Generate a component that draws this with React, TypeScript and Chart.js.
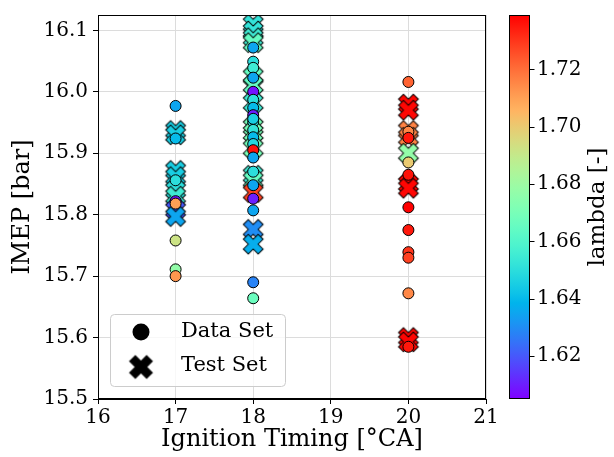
import React, { useEffect, useRef } from "react";
import { Chart, registerables } from "chart.js";
Chart.register(...registerables);

const FONT = "'DejaVu Serif', serif";

// ---- Data Set (circles) ----
const dataTiming = [
  17, 17, 17, 17, 17, 17, 17, 17,
  18, 18, 18, 18, 18, 18, 18, 18, 18, 18, 18, 18, 18, 18, 18, 18, 18, 18, 18, 18, 18,
  20, 20, 20, 20, 20, 20, 20, 20, 20, 20, 20,
];
const dataImep = [
  15.977, 15.924, 15.856, 15.822, 15.818, 15.758, 15.711, 15.7,
  16.072, 16.049, 16.039, 16.023, 16.0, 15.987, 15.974, 15.962, 15.951, 15.938, 15.926, 15.915, 15.905, 15.893, 15.87, 15.848, 15.826, 15.807, 15.69, 15.664, 15.956,
  16.016, 15.935, 15.925, 15.885, 15.865, 15.812, 15.775, 15.739, 15.73, 15.672, 15.585,
];
const dataLambda = [
  1.635, 1.64, 1.65, 1.608, 1.71, 1.692, 1.677, 1.712,
  1.635, 1.65, 1.655, 1.635, 1.608, 1.65, 1.64, 1.61, 1.65, 1.652, 1.64, 1.648, 1.736, 1.635, 1.65, 1.635, 1.61, 1.635, 1.628, 1.667, 1.645,
  1.722, 1.715, 1.735, 1.7, 1.736, 1.739, 1.735, 1.73, 1.728, 1.715, 1.735,
];

// ---- Test Set (crosses) ----
const testTiming = [
  17, 17, 17, 17, 17, 17, 17, 17,
  18, 18, 18, 18, 18, 18, 18, 18, 18, 18, 18, 18, 18, 18, 18,
  20, 20, 20, 20, 20, 20, 20, 20, 20,
];
const testImep = [
  15.937, 15.93, 15.872, 15.862, 15.84, 15.83, 15.808, 15.797,
  16.11, 16.099, 16.088, 16.08, 16.025, 16.011, 15.982, 15.943, 15.933, 15.908, 15.864, 15.856, 15.836, 15.776, 15.752,
  15.98, 15.97, 15.937, 15.926, 15.9, 15.85, 15.843, 15.6, 15.593,
];
const testLambda = [
  1.645, 1.645, 1.645, 1.645, 1.65, 1.655, 1.62, 1.635,
  1.652, 1.652, 1.655, 1.665, 1.665, 1.665, 1.655, 1.67, 1.67, 1.67, 1.655, 1.665, 1.728, 1.63, 1.637,
  1.738, 1.738, 1.716, 1.716, 1.677, 1.738, 1.738, 1.738, 1.738,
];

const xTickRange = [16, 21];
const yTickRange = [15.5, 16.125];
const lambdaRange = [1.605, 1.739];
const seriesLabels = ["Data Set", "Test Set"];
const xTitle = "Ignition Timing [°CA]";
const yTitle = "IMEP [bar]";
const cbTitle = "lambda [-]";

function rainbow(t: number): string {
  const c = (v: number) => Math.round(Math.max(0, Math.min(1, v)) * 255);
  t = Math.max(0, Math.min(1, t));
  const r = Math.abs(2 * t - 0.5);
  const g = Math.sin(Math.PI * t);
  const b = Math.cos((Math.PI * t) / 2);
  return `rgb(${c(r)},${c(g)},${c(b)})`;
}
const norm = (l: number) => (l - lambdaRange[0]) / (lambdaRange[1] - lambdaRange[0]);

const xCache = new Map<string, HTMLCanvasElement>();
function xMarker(color: string, s = 21, lw = 1): HTMLCanvasElement {
  const key = color + "|" + s;
  const hit = xCache.get(key);
  if (hit) return hit;
  const size = Math.ceil(2 * (0.4714 * s + lw + 1));
  const c = document.createElement("canvas");
  c.width = size;
  c.height = size;
  const g = c.getContext("2d")!;
  g.translate(size / 2, size / 2);
  g.rotate(Math.PI / 4);
  const v = [[-1, -3], [-1, -1], [-3, -1], [-3, 1], [-1, 1], [-1, 3], [1, 3], [1, 1], [3, 1], [3, -1], [1, -1], [1, -3]];
  g.beginPath();
  v.forEach(([a, b], i) => {
    const px = (a / 6) * s;
    const py = (b / 6) * s;
    if (i === 0) g.moveTo(px, py);
    else g.lineTo(px, py);
  });
  g.closePath();
  g.fillStyle = color;
  g.fill();
  g.lineWidth = lw;
  g.strokeStyle = "#000";
  g.stroke();
  xCache.set(key, c);
  return c;
}

const overlay = {
  id: "overlay",
  afterDraw(chart: any) {
    const ctx: CanvasRenderingContext2D = chart.ctx;
    const { left, right, top, bottom } = chart.chartArea;
    ctx.save();
    // frame
    ctx.strokeStyle = "#000";
    ctx.lineWidth = 1;
    ctx.strokeRect(left + 0.5, top + 0.5, right - left - 1, bottom - top - 1);

    // colorbar
    const cb = chart.scales.cb;
    const yTop = cb.getPixelForValue(lambdaRange[1]);
    const yBot = cb.getPixelForValue(lambdaRange[0]);
    const bx0 = 509, bx1 = 529;
    const grad = ctx.createLinearGradient(0, yBot, 0, yTop);
    for (let i = 0; i <= 40; i++) grad.addColorStop(i / 40, rainbow(i / 40));
    ctx.fillStyle = grad;
    ctx.fillRect(bx0, yTop, bx1 - bx0, yBot - yTop);
    ctx.strokeRect(bx0 + 0.5, yTop + 0.5, bx1 - bx0, yBot - yTop - 1);
    ctx.beginPath();
    for (const t of cb.ticks) {
      const y = Math.round(cb.getPixelForValue(t.value)) + 0.5;
      ctx.moveTo(bx1 + 0.5, y);
      ctx.lineTo(bx1 + 5.5, y);
    }
    ctx.stroke();
    ctx.fillStyle = "#000";
    ctx.font = `23px ${FONT}`;
    ctx.textAlign = "center";
    ctx.textBaseline = "middle";
    ctx.translate(598, (yTop + yBot) / 2);
    ctx.rotate(-Math.PI / 2);
    ctx.fillText(cbTitle, 0, 0);
    ctx.restore();

    // legend
    ctx.save();
    const lx = 110, ly = 314, lw = 175, lh = 72;
    ctx.beginPath();
    (ctx as any).roundRect(lx + 0.5, ly + 0.5, lw, lh, 4);
    ctx.fillStyle = "rgba(255,255,255,0.8)";
    ctx.fill();
    ctx.strokeStyle = "#cccccc";
    ctx.lineWidth = 1;
    ctx.stroke();
    ctx.beginPath();
    ctx.arc(141, 332, 8.5, 0, Math.PI * 2);
    ctx.fillStyle = "#000";
    ctx.fill();
    const xm = xMarker("#000", 24);
    ctx.drawImage(xm, 141 - xm.width / 2, 367 - xm.height / 2);
    ctx.fillStyle = "#000";
    ctx.font = `21px ${FONT}`;
    ctx.textAlign = "left";
    ctx.textBaseline = "middle";
    ctx.fillText(seriesLabels[0], 181, 332);
    ctx.fillText(seriesLabels[1], 181, 366);
    ctx.restore();
  },
};

const noPad = (s: any) => {
  s.paddingTop = 0;
  s.paddingBottom = 0;
  s.paddingLeft = 0;
  s.paddingRight = 0;
};

export default function App() {
  const ref = useRef<HTMLCanvasElement>(null);
  useEffect(() => {
    const colorOf = (ctx: any) => (ctx.raw ? rainbow(norm(ctx.raw.l)) : "#000");
    const chart = new Chart(ref.current!, {
      type: "scatter",
      data: {
        datasets: [
          {
            label: seriesLabels[0],
            data: dataTiming.map((x, i) => ({ x, y: dataImep[i], l: dataLambda[i] })) as any,
            pointStyle: "circle",
            pointRadius: 5.5,
            backgroundColor: colorOf as any,
            borderColor: "#000",
            borderWidth: 1,
          },
          {
            label: seriesLabels[1],
            data: testTiming.map((x, i) => ({ x, y: testImep[i], l: testLambda[i] })) as any,
            pointStyle: ((ctx: any) => (ctx.raw ? xMarker(rainbow(norm(ctx.raw.l))) : "crossRot")) as any,
            pointRadius: 10,
            backgroundColor: colorOf as any,
            borderColor: "#000",
            borderWidth: 1,
          },
        ],
      },
      options: {
        responsive: false,
        animation: false,
        devicePixelRatio: 1,
        layout: { padding: { top: 15, left: 0, right: 0, bottom: 0 } },
        plugins: { legend: { display: false }, tooltip: { enabled: false } },
        scales: {
          x: {
            type: "linear",
            min: xTickRange[0],
            max: xTickRange[1],
            afterFit: (s: any) => { s.height = 58; noPad(s); },
            ticks: { stepSize: 1, color: "#000", font: { family: FONT, size: 20 }, padding: 2, maxRotation: 0 },
            grid: { color: "#dcdcdc", tickColor: "#000", tickLength: 5, lineWidth: 1 },
            border: { display: true, color: "#000" },
            title: { display: true, text: xTitle, color: "#000", font: { family: FONT, size: 24 }, padding: { top: 0, bottom: 3 } },
          },
          y: {
            type: "linear",
            min: yTickRange[0],
            max: yTickRange[1],
            afterFit: (s: any) => { s.width = 98; noPad(s); },
            ticks: { stepSize: 0.1, includeBounds: false, color: "#000", font: { family: FONT, size: 20 }, padding: 5, callback: (v: any) => Number(v).toFixed(1) },
            grid: { color: "#dcdcdc", tickColor: "#000", tickLength: 5, lineWidth: 1 },
            border: { display: true, color: "#000" },
            title: { display: true, text: yTitle, color: "#000", font: { family: FONT, size: 24 }, padding: { top: 8, bottom: 0 } },
          },
          cb: {
            type: "linear",
            axis: "y",
            position: "right",
            min: lambdaRange[0],
            max: lambdaRange[1],
            afterFit: (s: any) => { s.width = 128; noPad(s); },
            ticks: { stepSize: 0.02, includeBounds: false, color: "#000", font: { family: FONT, size: 20 }, padding: 51, callback: (v: any) => Number(v).toFixed(2) },
            grid: { display: false, drawOnChartArea: false, drawTicks: false },
            border: { display: false },
          },
        } as any,
      },
      plugins: [overlay],
    } as any);
    return () => chart.destroy();
  }, []);
  return (
    <div style={{ position: "absolute", left: 0, top: 0, width: 614, height: 457, background: "#fff" }}>
      <canvas ref={ref} width={614} height={457} style={{ display: "block" }} />
    </div>
  );
}
